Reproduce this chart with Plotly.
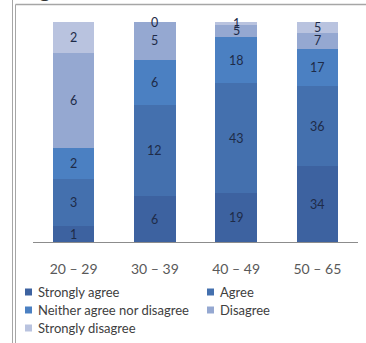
import plotly.graph_objects as go

# Survey responses by age group (counts)
age_groups = ["20 – 29", "30 – 39", "40 – 49", "50 – 65"]
strongly_agree = [1, 6, 19, 34]
agree = [3, 12, 43, 36]
neither = [2, 6, 18, 17]
disagree = [6, 5, 5, 7]
strongly_disagree = [2, 0, 1, 5]

series_names = ["Strongly agree", "Agree", "Neither agree nor disagree",
                "Disagree", "Strongly disagree"]
series_values = [strongly_agree, agree, neither, disagree, strongly_disagree]
series_colors = ["#3d62a0", "#4470ae", "#4b80c2", "#95a8d1", "#b9c3df"]

W, H = 366, 343
L, R, T, B = 33, 8, 22, 101
pw, ph = W - L - R, H - T - B

def px_x(x):
    return (x - L) / pw

def px_y(y):
    return (H - B - y) / ph

FONT = "Lato, Open Sans, sans-serif"

fig = go.Figure()
for name, vals, col in zip(series_names, series_values, series_colors):
    fig.add_trace(go.Bar(
        x=age_groups, y=vals, name=name,
        marker=dict(color=col, line=dict(width=0)),
        hoverinfo="x+y+name", showlegend=False,
    ))

# value labels centred in each stacked (100 %) segment
totals = [sum(v[i] for v in series_values) for i in range(len(age_groups))]
annotations = []
for i, g in enumerate(age_groups):
    base = 0.0
    for vals in series_values:
        share = vals[i] / totals[i] * 100
        annotations.append(dict(
            x=g, y=base + share / 2, xref="x", yref="y",
            text=str(vals[i]), showarrow=False,
            font=dict(family=FONT, size=12.5, color="#1e2b48"),
        ))
        base += share

# cut-off chart title glyph at the very top
annotations.append(dict(
    x=px_x(44), y=px_y(4), xref="paper", yref="paper",
    text="g", showarrow=False, yanchor="bottom", xanchor="center",
    font=dict(family=FONT, size=22, color="#333333"),
))

shapes = [
    # outer frame lines
    dict(type="line", xref="paper", yref="paper",
         x0=px_x(12.5), x1=px_x(12.5), y0=px_y(0), y1=px_y(343),
         line=dict(color="#a6a6a6", width=1)),
    dict(type="line", xref="paper", yref="paper",
         x0=px_x(15.5), x1=px_x(15.5), y0=px_y(4.5), y1=px_y(343),
         line=dict(color="#a6a6a6", width=1)),
    dict(type="line", xref="paper", yref="paper",
         x0=px_x(15.5), x1=px_x(366), y0=px_y(4.5), y1=px_y(4.5),
         line=dict(color="#a6a6a6", width=1.5)),
]

# two-column legend below the axis
legend_cols = [25, 207]
legend_rows = [292, 310, 328]
for k, (name, col) in enumerate(zip(series_names, series_colors)):
    cx = legend_cols[k % 2]
    cy = legend_rows[k // 2]
    shapes.append(dict(
        type="rect", xref="paper", yref="paper",
        x0=px_x(cx), x1=px_x(cx + 7), y0=px_y(cy - 3.5), y1=px_y(cy + 3.5),
        fillcolor=col, line=dict(width=0),
    ))
    annotations.append(dict(
        x=px_x(cx + 11), y=px_y(cy), xref="paper", yref="paper",
        text=name, showarrow=False, xanchor="left", yanchor="middle",
        font=dict(family=FONT, size=13, color="#404040"),
    ))

fig.update_layout(
    width=W, height=H,
    margin=dict(l=L, r=R, t=T, b=B, pad=0),
    barmode="stack", barnorm="percent", bargap=0.49,
    plot_bgcolor="white", paper_bgcolor="white",
    font=dict(family=FONT, color="#404040"),
    xaxis=dict(showline=True, linecolor="#8c8c8c", linewidth=1,
               ticks="", showgrid=False, ticklabelstandoff=14,
               tickfont=dict(size=14, color="#595959")),
    yaxis=dict(visible=False, range=[0, 100], showgrid=False),
    showlegend=False,
    annotations=annotations,
    shapes=shapes,
)

fig.write_html("out.html")
